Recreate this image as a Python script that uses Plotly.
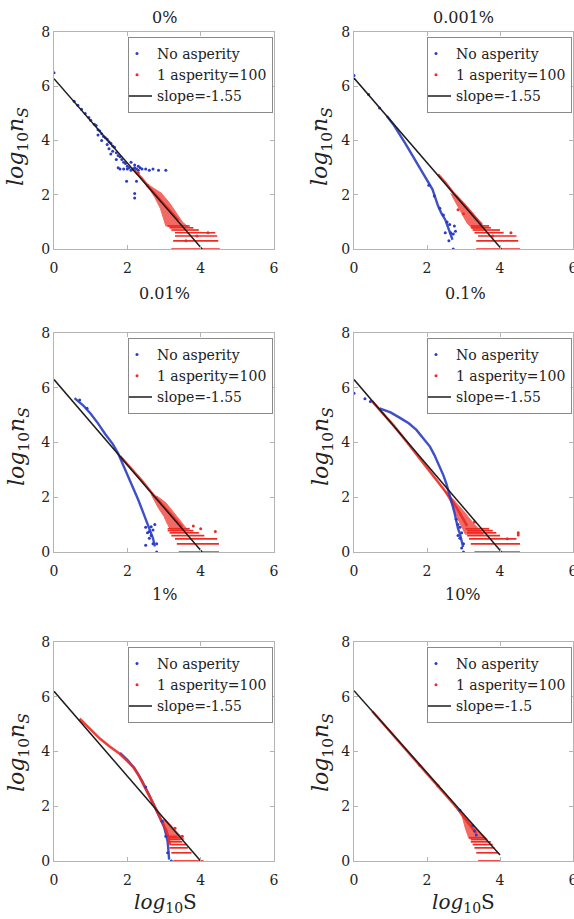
import plotly.graph_objects as go

FONT = "DejaVu Serif"
BLUE = "#2b3cc4"
RED = "#ee2b22"
BLACK = "#1c1c1c"
AXIS = "#b4b4b4"
TEXT = "#222222"

PANEL_TITLES = ["0%", "0.001%", "0.01%", "0.1%", "1%", "10%"]
SLOPE_LABELS = ["slope=-1.55", "slope=-1.55", "slope=-1.55", "slope=-1.55", "slope=-1.55", "slope=-1.5"]
BLUE_LABEL = "No asperity"
RED_LABEL = "1 asperity=100"
X_TICKS = [0, 2, 4, 6]
Y_TICKS = [0, 2, 4, 6, 8]

# ---------------- panel 1 : 0% ----------------
P1_FIT = [(0.0, 6.28), (4.04, 0.0)]
P1_BLUE_CURVE = []
P1_BLUE_DOTS = [(0.0, 6.5), (0.55, 5.45), (0.65, 5.3), (0.75, 5.15), (0.85, 5.0), (0.95, 4.85), (1.0, 4.75),
                (1.1, 4.6), (1.15, 4.55), (1.2, 4.4), (1.25, 4.35), (1.3, 4.25), (1.35, 4.15), (1.4, 4.1),
                (1.45, 4.05), (1.5, 3.95), (1.55, 3.9), (1.6, 3.8), (1.45, 3.85), (1.5, 3.7), (1.6, 3.6),
                (1.65, 3.75), (1.7, 3.55), (1.75, 3.45), (1.8, 3.4), (1.85, 3.3), (1.7, 3.3), (1.9, 3.2),
                (1.95, 3.15), (2.0, 3.05), (1.75, 3.0), (1.8, 2.95), (1.9, 2.95), (2.0, 2.95), (2.05, 3.0),
                (2.1, 2.9), (2.15, 2.95), (2.2, 3.0), (2.25, 2.95), (2.3, 2.9), (2.35, 3.0), (2.4, 2.95),
                (2.5, 2.95), (2.6, 2.9), (2.7, 2.95), (2.85, 2.9), (3.05, 2.9), (2.1, 3.2), (2.2, 3.1),
                (2.3, 3.05), (1.98, 2.5), (2.2, 2.05), (2.25, 2.5), (2.2, 1.88), (1.3, 4.0), (1.55, 3.5),
                (1.2, 4.2)]
P1_RED_CURVE = [(2.15, 2.95), (2.4, 2.6), (2.6, 2.25), (2.8, 1.95), (3.0, 1.65), (3.2, 1.35), (3.4, 1.05)]
P1_RED_CLOUD = [(2.5, 2.45), (2.75, 1.9), (2.9, 1.5), (3.0, 1.1), (3.05, 0.85), (3.3, 0.8), (3.65, 0.82),
                (3.5, 1.0), (3.35, 1.3), (3.15, 1.7), (2.9, 2.1)]
P1_STRIPES = [(0.0, 3.2, 4.52), (0.3, 3.25, 4.48), (0.48, 3.3, 4.45), (0.6, 3.3, 4.4), (0.7, 3.2, 3.95),
              (0.78, 3.15, 3.8), (0.85, 3.1, 3.7)]
P1_RED_DOTS = [(3.6, 0.3), (4.2, 0.6), (3.9, 0.48), (2.3, 2.8), (2.55, 2.35)]

# ---------------- panel 2 : 0.001% ----------------
P2_FIT = [(0.0, 6.3), (4.04, 0.0)]
P2_BLUE_CURVE = [(0.9, 4.9), (1.1, 4.55), (1.4, 3.9), (1.7, 3.2), (2.0, 2.55), (2.15, 2.2), (2.3, 1.6),
                 (2.4, 1.3), (2.5, 1.08), (2.6, 0.72), (2.7, 0.34)]
P2_BLUE_DOTS = [(0.0, 6.4), (0.4, 5.7), (0.7, 5.2), (2.35, 1.5), (2.45, 1.25), (2.55, 1.0), (2.62, 0.9),
                (2.65, 0.6), (2.72, 0.55), (2.75, 0.85), (2.78, 0.65), (2.72, 0.0), (2.6, 0.3), (2.5, 0.6),
                (2.2, 1.95), (2.05, 2.35)]
P2_RED_CURVE = [(2.3, 2.75), (2.5, 2.45), (2.7, 2.1), (2.9, 1.8), (3.1, 1.5), (3.3, 1.2), (3.5, 0.9)]
P2_RED_CLOUD = [(2.65, 2.05), (2.85, 1.55), (3.0, 1.15), (3.1, 0.95), (3.25, 0.75), (3.6, 0.75), (3.5, 0.92),
                (3.3, 1.25), (3.05, 1.65), (2.8, 2.0)]
P2_STRIPES = [(0.0, 3.35, 4.55), (0.3, 3.35, 4.5), (0.48, 3.4, 4.45), (0.6, 3.3, 4.1), (0.7, 3.25, 4.0),
              (0.78, 3.2, 3.75), (0.85, 3.2, 3.7)]
P2_RED_DOTS = [(3.8, 0.48), (4.3, 0.6), (3.0, 1.3), (2.85, 1.45)]

# ---------------- panel 3 : 0.01% ----------------
P3_FIT = [(0.0, 6.3), (4.04, 0.0)]
P3_BLUE_CURVE = [(0.56, 5.62), (0.8, 5.35), (1.0, 5.05), (1.2, 4.7), (1.4, 4.3), (1.6, 3.95), (1.75, 3.6),
                 (1.85, 3.3), (2.0, 2.85), (2.15, 2.4), (2.3, 1.9), (2.43, 1.45), (2.55, 1.05), (2.62, 0.8),
                 (2.7, 0.5), (2.75, 0.2)]
P3_BLUE_DOTS = [(2.5, 0.9), (2.6, 0.75), (2.65, 0.92), (2.7, 0.8), (2.55, 0.7), (2.6, 0.5), (2.7, 0.3),
                (2.8, 0.3), (2.5, 0.25), (2.8, 0.0), (2.65, 0.6), (2.75, 1.0), (0.7, 5.55), (0.9, 5.25)]
P3_RED_CURVE = [(1.8, 3.5), (2.1, 3.05), (2.4, 2.6), (2.7, 2.1), (2.9, 1.8), (3.1, 1.5), (3.3, 1.2), (3.5, 0.9)]
P3_RED_CLOUD = [(2.65, 2.1), (2.85, 1.6), (3.0, 1.3), (3.1, 1.0), (3.2, 0.78), (3.65, 0.78), (3.5, 1.05),
                (3.3, 1.4), (3.05, 1.8), (2.8, 2.05)]
P3_STRIPES = [(0.0, 3.4, 4.5), (0.3, 3.35, 4.5), (0.48, 3.3, 4.45), (0.6, 3.2, 4.1), (0.7, 3.15, 3.95),
              (0.78, 3.1, 3.8), (0.85, 3.1, 3.7)]
P3_RED_DOTS = [(4.4, 0.75), (4.0, 0.85), (3.8, 0.95)]

# ---------------- panel 4 : 0.1% ----------------
P4_FIT = [(0.0, 6.3), (4.04, 0.0)]
P4_BLUE_CURVE = [(0.7, 5.25), (1.0, 5.1), (1.26, 4.9), (1.5, 4.7), (1.71, 4.46), (1.9, 4.15), (2.08, 3.85),
                 (2.2, 3.55), (2.35, 3.11), (2.45, 2.8), (2.53, 2.5), (2.6, 2.2), (2.67, 1.89), (2.72, 1.6),
                 (2.76, 1.4), (2.8, 1.1), (2.85, 0.85), (2.9, 0.67), (2.95, 0.4), (2.99, 0.18)]
P4_BLUE_DOTS = [(0.0, 5.8), (0.3, 5.6), (0.45, 5.5), (2.8, 1.2), (2.85, 1.0), (2.9, 0.9), (2.95, 0.7),
                (2.9, 0.5), (3.0, 0.3), (3.0, 0.0), (2.95, 0.15), (2.85, 0.6)]
P4_RED_CURVE = [(0.5, 5.5), (0.8, 5.05), (1.1, 4.6), (1.4, 4.1), (1.7, 3.6), (2.0, 3.1), (2.26, 2.63),
                (2.45, 2.3), (2.62, 2.01), (2.8, 1.65), (2.95, 1.3), (3.1, 0.95)]
P4_RED_CLOUD = [(2.45, 2.3), (2.7, 1.7), (2.85, 1.2), (3.0, 0.8), (3.05, 0.65), (3.55, 0.65), (3.3, 1.0),
                (3.0, 1.5), (2.7, 1.95)]
P4_STRIPES = [(0.0, 3.3, 4.55), (0.3, 3.2, 4.55), (0.48, 3.15, 4.45), (0.6, 3.1, 4.0), (0.7, 3.1, 3.9),
              (0.78, 3.1, 3.8), (0.85, 3.05, 3.7)]
P4_RED_DOTS = [(4.5, 0.7), (4.5, 0.62), (4.2, 0.48), (3.3, 1.1)]

# ---------------- panel 5 : 1% ----------------
P5_FIT = [(0.0, 6.2), (4.0, 0.0)]
P5_BLUE_CURVE = [(1.8, 3.95), (2.0, 3.7), (2.2, 3.38), (2.4, 2.93), (2.6, 2.4), (2.8, 1.85), (2.9, 1.55),
                 (3.0, 1.25), (3.05, 1.0), (3.1, 0.7), (3.12, 0.4), (3.14, 0.05)]
P5_BLUE_DOTS = [(3.2, 0.0), (3.1, 0.3), (3.05, 0.9), (2.95, 1.45), (2.5, 2.7)]
P5_RED_CURVE = [(0.7, 5.2), (1.0, 4.8), (1.25, 4.47), (1.5, 4.2), (1.79, 3.92), (2.0, 3.65), (2.16, 3.43),
                (2.3, 3.15), (2.43, 2.82), (2.55, 2.5), (2.7, 2.08), (2.8, 1.85), (2.89, 1.59), (3.0, 1.3),
                (3.07, 1.1), (3.12, 0.85), (3.16, 0.61)]
P5_RED_CLOUD = [(2.95, 1.5), (3.05, 1.25), (3.1, 1.0), (3.13, 0.8), (3.45, 0.78), (3.55, 0.8), (3.4, 1.0),
                (3.2, 1.3), (3.02, 1.55)]
P5_STRIPES = [(0.0, 3.25, 4.08), (0.3, 3.2, 3.75), (0.48, 3.15, 3.65), (0.6, 3.15, 3.6), (0.7, 3.12, 3.5),
              (0.78, 3.1, 3.45), (0.85, 3.1, 3.4), (0.9, 3.1, 3.35)]
P5_RED_DOTS = [(3.3, 1.2), (3.5, 0.9)]

# ---------------- panel 6 : 10% ----------------
P6_FIT = [(0.0, 6.22), (4.0, 0.22)]
P6_BLUE_CURVE = []
P6_BLUE_DOTS = [(3.25, 1.3), (3.3, 1.1), (2.9, 1.85), (3.35, 0.95)]
P6_RED_CURVE = [(0.5, 5.47), (1.0, 4.72), (1.5, 3.97), (2.0, 3.22), (2.5, 2.45), (2.8, 1.98), (3.0, 1.62),
                (3.2, 1.28), (3.35, 1.02)]
P6_RED_CLOUD = [(2.75, 2.0), (2.95, 1.7), (3.05, 1.2), (3.15, 0.82), (3.6, 0.82), (3.65, 0.8), (3.5, 1.0),
                (3.2, 1.4), (2.9, 1.8)]
P6_STRIPES = [(0.0, 3.4, 4.0), (0.3, 3.35, 3.95), (0.48, 3.3, 3.85), (0.6, 3.25, 3.8), (0.7, 3.2, 3.75),
              (0.78, 3.2, 3.65), (0.85, 3.15, 3.6)]
P6_RED_DOTS = [(2.3, 2.75), (1.8, 3.5)]

PANELS = [
    dict(fit=P1_FIT, bc=P1_BLUE_CURVE, bd=P1_BLUE_DOTS, rc=P1_RED_CURVE, rcl=P1_RED_CLOUD, st=P1_STRIPES, rd=P1_RED_DOTS),
    dict(fit=P2_FIT, bc=P2_BLUE_CURVE, bd=P2_BLUE_DOTS, rc=P2_RED_CURVE, rcl=P2_RED_CLOUD, st=P2_STRIPES, rd=P2_RED_DOTS),
    dict(fit=P3_FIT, bc=P3_BLUE_CURVE, bd=P3_BLUE_DOTS, rc=P3_RED_CURVE, rcl=P3_RED_CLOUD, st=P3_STRIPES, rd=P3_RED_DOTS),
    dict(fit=P4_FIT, bc=P4_BLUE_CURVE, bd=P4_BLUE_DOTS, rc=P4_RED_CURVE, rcl=P4_RED_CLOUD, st=P4_STRIPES, rd=P4_RED_DOTS),
    dict(fit=P5_FIT, bc=P5_BLUE_CURVE, bd=P5_BLUE_DOTS, rc=P5_RED_CURVE, rcl=P5_RED_CLOUD, st=P5_STRIPES, rd=P5_RED_DOTS),
    dict(fit=P6_FIT, bc=P6_BLUE_CURVE, bd=P6_BLUE_DOTS, rc=P6_RED_CURVE, rcl=P6_RED_CLOUD, st=P6_STRIPES, rd=P6_RED_DOTS),
]

# ---------------- layout geometry (pixels) ----------------
W, H = 574, 919
COL_X = [(54, 274), (354, 573)]
ROW_Y = [(32, 249), (333, 552), (642, 861)]
TITLE_POS = [(164, 17), (463, 17), (164, 294), (465, 294), (164, 594), (463, 594)]
YLABEL_X = [18, 322]
YLABEL_Y = [147, 447, 753]
XLABEL_POS = [(165, 903), (463, 903)]


def fx(p):
    return p / W


def fy(p):
    return 1 - p / H


def xs(pts):
    return [p[0] for p in pts]


def ys(pts):
    return [p[1] for p in pts]


fig = go.Figure()
layout = dict(
    width=W, height=H, autosize=False,
    margin=dict(l=0, r=0, t=0, b=0, pad=0),
    paper_bgcolor="white", plot_bgcolor="white",
    font=dict(family=FONT, color=TEXT),
    annotations=[],
)


def label(text, px, py, size, angle=0):
    return dict(text=text, x=fx(px), y=fy(py), xref="paper", yref="paper",
                xanchor="center", yanchor="middle", textangle=angle, showarrow=False,
                font=dict(family=FONT, size=size, color=TEXT))


for k, p in enumerate(PANELS):
    r, c = divmod(k, 2)
    sfx = "" if k == 0 else str(k + 1)
    xa, ya = "x" + sfx, "y" + sfx
    lg = "legend" + sfx

    # red stripes (horizontal bands of single-count events)
    sx, sy = [], []
    for (yy, x0, x1) in p["st"]:
        sx += [x0, x1, None]
        sy += [yy, yy, None]

    common = dict(xaxis=xa, yaxis=ya, legend=lg)
    blue_curve = go.Scatter(x=xs(p["bc"]), y=ys(p["bc"]), mode="lines",
                            line=dict(color=BLUE, width=2.4), opacity=0.9, showlegend=False, **common)
    red_cloud = go.Scatter(x=xs(p["rcl"]), y=ys(p["rcl"]), mode="lines", fill="toself",
                           fillcolor=RED, line=dict(color=RED, width=1), opacity=0.7, showlegend=False, **common)
    red_stripes = go.Scatter(x=sx, y=sy, mode="lines", line=dict(color=RED, width=1.7),
                             showlegend=False, **common)
    red_curve = go.Scatter(x=xs(p["rc"]), y=ys(p["rc"]), mode="lines",
                           line=dict(color=RED, width=2.6), opacity=0.9, showlegend=False, **common)
    if k >= 4:
        order = [blue_curve, red_cloud, red_stripes, red_curve]
    else:
        order = [red_cloud, red_stripes, red_curve, blue_curve]
    for t in order:
        fig.add_trace(t)

    fig.add_trace(go.Scatter(x=xs(p["bd"]), y=ys(p["bd"]), mode="markers", name=BLUE_LABEL,
                             marker=dict(color=BLUE, size=3), **common))
    fig.add_trace(go.Scatter(x=xs(p["rd"]), y=ys(p["rd"]), mode="markers", name=RED_LABEL,
                             marker=dict(color=RED, size=3), **common))
    fig.add_trace(go.Scatter(x=xs(p["fit"]), y=ys(p["fit"]), mode="lines", name=SLOPE_LABELS[k],
                             line=dict(color=BLACK, width=1.5), **common))

    x0, x1 = COL_X[c]
    y0, y1 = ROW_Y[r]
    axis_common = dict(showline=True, linecolor=AXIS, linewidth=1, mirror="ticks", ticks="inside",
                       ticklen=4, tickcolor=AXIS, showgrid=False, zeroline=False, automargin=False,
                       ticklabeloverflow="allow",
                       tickfont=dict(family=FONT, size=14, color=TEXT))
    layout["xaxis" + sfx] = dict(domain=[fx(x0), fx(x1)], range=[0, 6], tickvals=X_TICKS,
                                 anchor=ya, ticklabelstandoff=6, **axis_common)
    layout["yaxis" + sfx] = dict(domain=[fy(y1), fy(y0)], range=[0, 8], tickvals=Y_TICKS,
                                 anchor=xa, **axis_common)
    layout[lg] = dict(x=fx(x1 - 1), y=fy(y0 + 5), xanchor="right", yanchor="top",
                      bgcolor="white", bordercolor="#8a8a8a", borderwidth=1,
                      font=dict(family=FONT, size=14, color=TEXT), itemwidth=30,
                      tracegroupgap=0, indentation=-12)

    tx, ty = TITLE_POS[k]
    layout["annotations"].append(label(PANEL_TITLES[k], tx, ty, 16))
    layout["annotations"].append(label("<i>log</i><sub>10</sub><i>n</i><sub><i>S</i></sub>",
                                       YLABEL_X[c], YLABEL_Y[r], 22, -90))

for c in range(2):
    lx, lyy = XLABEL_POS[c]
    layout["annotations"].append(label("<i>log</i><sub>10</sub>S", lx, lyy, 20))

fig.update_layout(**layout)
fig.write_html("out.html")
